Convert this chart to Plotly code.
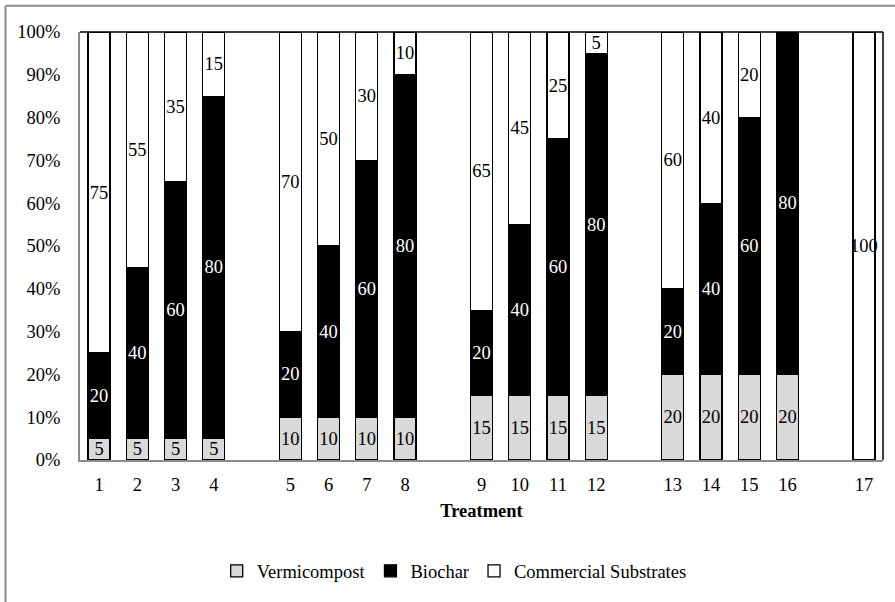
import plotly.graph_objects as go

# ---- data ----
groups = [["1", "2", "3", "4"], ["5", "6", "7", "8"], ["9", "10", "11", "12"],
          ["13", "14", "15", "16"], ["17"]]
vermicompost = [5, 5, 5, 5, 10, 10, 10, 10, 15, 15, 15, 15, 20, 20, 20, 20, 0]
biochar = [20, 40, 60, 80, 20, 40, 60, 80, 20, 40, 60, 80, 20, 40, 60, 80, 0]
commercial = [75, 55, 35, 15, 70, 50, 30, 10, 65, 45, 25, 5, 60, 40, 20, 0, 100]
y_ticks = [0, 10, 20, 30, 40, 50, 60, 70, 80, 90, 100]

# category slots: one empty slot between treatment groups
labels, pos = [], []
slot = 1
for g in groups:
    for t in g:
        labels.append(t)
        pos.append(slot)
        slot += 1
    slot += 1
n_slots = slot - 2

FONT = "Liberation Serif, Times New Roman, serif"
FS = 18.5

def vals(v):
    return [x if x else None for x in v]

def txt(v):
    return [str(x) if x else "" for x in v]

series = [
    ("Vermicompost", vermicompost, "#d9d9d9", "black"),
    ("Biochar", biochar, "black", "white"),
    ("Commercial Substrates", commercial, "white", "black"),
]

fig = go.Figure()
for name, v, fill, tcol in series:
    fig.add_trace(go.Bar(
        x=pos, y=vals(v), name=name, text=txt(v),
        textposition="inside", insidetextanchor="middle", textangle=0,
        constraintext="none", cliponaxis=False,
        textfont=dict(family=FONT, size=FS, color=tcol),
        marker=dict(color=fill, line=dict(color="black", width=1.3)),
        width=0.575, hoverinfo="skip",
    ))

fig.update_layout(
    width=895, height=602,
    margin=dict(l=80, r=12, t=32, b=140),
    barmode="stack",
    plot_bgcolor="white", paper_bgcolor="white",
    font=dict(family=FONT, size=FS, color="black"),
    showlegend=True,
    legend=dict(orientation="h", x=0.466, xanchor="center", y=-0.26, yanchor="middle",
                traceorder="normal", font=dict(family=FONT, size=FS, color="black"),
                itemclick=False, bgcolor="rgba(0,0,0,0)"),
    xaxis=dict(range=[0.5, n_slots + 0.5], tickmode="array", tickvals=pos, ticktext=labels,
               showline=True, linecolor="#8c8c8c", linewidth=2, showgrid=False, zeroline=False,
               ticks="", ticklabelstandoff=7,
               title=dict(text="<b>Treatment</b>", standoff=10,
                          font=dict(family=FONT, size=FS, color="black"))),
    yaxis=dict(range=[0, 100], tickmode="array", tickvals=y_ticks,
               ticktext=[f"{t}%" for t in y_ticks],
               showline=True, linecolor="#8c8c8c", linewidth=2, showgrid=False, zeroline=False,
               ticks="", ticklabelstandoff=14),
    shapes=[
        # top and right plot-area edges
        dict(type="line", xref="paper", yref="paper", x0=0, x1=1, y0=1, y1=1,
             line=dict(color="black", width=1.5)),
        dict(type="line", xref="paper", yref="paper", x0=1, x1=1, y0=0, y1=1,
             line=dict(color="black", width=1.5)),
        # outer chart border (left and top visible)
        dict(type="line", xref="paper", yref="paper", x0=-0.0928, x1=1.1, y0=1.0616, y1=1.0616,
             line=dict(color="#8c8c8c", width=2)),
        dict(type="line", xref="paper", yref="paper", x0=-0.0928, x1=-0.0928, y0=-0.5, y1=1.0616,
             line=dict(color="#8c8c8c", width=2)),
    ],
)

fig.write_html("out.html")
